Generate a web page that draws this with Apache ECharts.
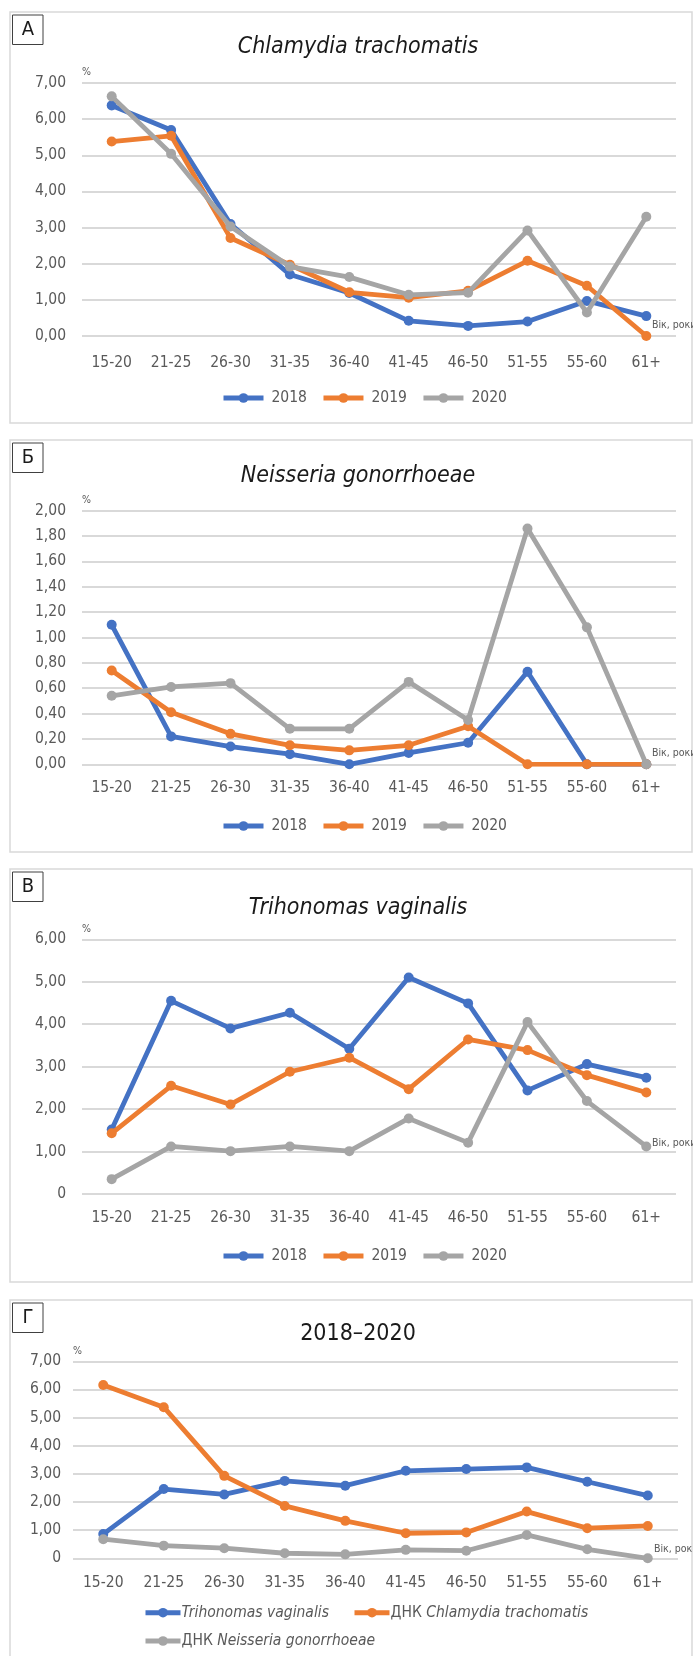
<!DOCTYPE html>
<html>
<head>
<meta charset="utf-8">
<script src="https://cdn.jsdelivr.net/npm/echarts@6/dist/echarts.min.js"></script>
<style>
html,body{margin:0;padding:0;background:#fff;}
#chart{width:693px;height:1656px;}
</style>
</head>
<body>
<div id="chart"></div>
<script>
// ---- Data ----
const categories = ['15-20','21-25','26-30','31-35','36-40','41-45','46-50','51-55','55-60','61+'];

// Panel A: Chlamydia trachomatis
const chl2018 = [6.38, 5.70, 3.10, 1.70, 1.19, 0.42, 0.28, 0.40, 0.97, 0.55];
const chl2019 = [5.38, 5.54, 2.71, 1.97, 1.21, 1.06, 1.25, 2.08, 1.39, 0.00];
const chl2020 = [6.63, 5.04, 3.03, 1.92, 1.63, 1.14, 1.20, 2.92, 0.65, 3.30];

// Panel B: Neisseria gonorrhoeae
const gon2018 = [1.10, 0.22, 0.14, 0.08, 0.00, 0.09, 0.17, 0.73, 0.00, 0.00];
const gon2019 = [0.74, 0.41, 0.24, 0.15, 0.11, 0.15, 0.30, 0.00, 0.00, 0.00];
const gon2020 = [0.54, 0.61, 0.64, 0.28, 0.28, 0.65, 0.35, 1.86, 1.08, 0.00];

// Panel C: Trihonomas vaginalis
const tri2018 = [1.52, 4.55, 3.90, 4.27, 3.42, 5.10, 4.49, 2.44, 3.06, 2.74];
const tri2019 = [1.43, 2.55, 2.11, 2.88, 3.21, 2.47, 3.64, 3.39, 2.80, 2.39];
const tri2020 = [0.35, 1.12, 1.01, 1.12, 1.01, 1.78, 1.21, 4.05, 2.19, 1.12];

// Panel D: 2018–2020
const totTri = [0.86, 2.46, 2.27, 2.75, 2.58, 3.11, 3.17, 3.23, 2.72, 2.23];
const totChl = [6.16, 5.37, 2.93, 1.86, 1.33, 0.89, 0.92, 1.66, 1.07, 1.15];
const totGon = [0.68, 0.45, 0.36, 0.18, 0.14, 0.30, 0.27, 0.83, 0.32, 0.00];

const years = ['2018', '2019', '2020'];
const totNames = ['Trihonomas vaginalis', 'ДНК Chlamydia trachomatis', 'ДНК Neisseria gonorrhoeae'];
const titles = ['Chlamydia trachomatis', 'Neisseria gonorrhoeae', 'Trihonomas vaginalis', '2018–2020'];
const panelLetters = ['А', 'Б', 'В', 'Г'];

const yTicksA = ['0,00','1,00','2,00','3,00','4,00','5,00','6,00','7,00'];
const yTicksB = ['0,00','0,20','0,40','0,60','0,80','1,00','1,20','1,40','1,60','1,80','2,00'];
const yTicksC = ['0','1,00','2,00','3,00','4,00','5,00','6,00'];
const yTicksD = ['0','1,00','2,00','3,00','4,00','5,00','6,00','7,00'];

const unitLabelY = '%';
const unitLabelX = 'Вік, роки';

// ---- Styling ----
const COLORS = ['#4472C4', '#ED7D31', '#A5A5A5'];
const NARROW = "'Liberation Sans Narrow', 'DejaVu Sans Condensed', 'Roboto Condensed', 'Arial Narrow', sans-serif";
const TXT = '#595959';
const GRIDC = '#d9d9d9';
const FS = 15.5;

const panels = [
  {ticks: yTicksA, interval: 1, series: [chl2018, chl2019, chl2020], names: years,
   grid: {left: 82, right: 17, top: 83, height: 253}, box: [10, 12, 682, 411],
   titleY: 45, legendY: 397, xnamePad: 5, labelGap: 16, xMargin: 19, italic: true},
  {ticks: yTicksB, interval: 0.2, series: [gon2018, gon2019, gon2020], names: years,
   grid: {left: 82, right: 17, top: 510.7, height: 253.6}, box: [10, 440, 682, 412],
   titleY: 474, legendY: 825, xnamePad: 6, labelGap: 16, xMargin: 16, italic: true},
  {ticks: yTicksC, interval: 1, series: [tri2018, tri2019, tri2020], names: years,
   grid: {left: 82, right: 17, top: 939.3, height: 254.7}, box: [10, 869, 682, 413],
   titleY: 906, legendY: 1255, xnamePad: 45, labelGap: 16, xMargin: 16, italic: true},
  {ticks: yTicksD, interval: 1, series: [totTri, totChl, totGon], names: totNames,
   grid: {left: 73, right: 15, top: 1361.3, height: 197}, box: [10, 1300, 682, 400],
   titleY: 1332, legendY: null, xnamePad: 4, labelGap: 12, xMargin: 17, italic: false}
];

const option = {
  animation: false,
  backgroundColor: '#fff',
  title: [], grid: [], xAxis: [], yAxis: [], series: [], legend: [], graphic: []
};

panels.forEach((p, i) => {
  const [bx, by, bw, bh] = p.box;
  option.graphic.push({type: 'rect', shape: {x: bx, y: by, width: bw, height: bh},
    style: {fill: 'none', stroke: '#d9d9d9', lineWidth: 1.5}, z: 0, silent: true});
  const ly = by + 3;
  option.graphic.push({type: 'rect', shape: {x: 12.5, y: ly, width: 30.5, height: 29.5},
    style: {fill: '#fff', stroke: '#404040', lineWidth: 1}, z: 5});
  option.graphic.push({type: 'text', x: 28, y: ly + 15, z: 6,
    style: {text: panelLetters[i], fill: '#1a1a1a', font: "20px 'DejaVu Sans Condensed', sans-serif",
      textAlign: 'center', textVerticalAlign: 'middle'}});

  option.title.push({
    text: titles[i], left: 353, textAlign: 'center', top: p.titleY - 17,
    textStyle: {fontFamily: NARROW, fontStyle: p.italic ? 'italic' : 'normal', fontWeight: 'normal',
      fontSize: 23, color: '#1a1a1a', lineHeight: 28}
  });

  option.grid.push(Object.assign({containLabel: false, outerBoundsMode: 'none'}, p.grid));

  option.xAxis.push({
    type: 'category', gridIndex: i, data: categories, boundaryGap: true,
    axisLine: {show: false}, axisTick: {show: false},
    axisLabel: {color: TXT, fontFamily: NARROW, fontSize: FS, margin: p.xMargin, interval: 0},
    name: unitLabelX, nameLocation: 'end', nameGap: -24,
    nameTextStyle: {color: TXT, fontFamily: NARROW, fontSize: 10.5, align: 'left', verticalAlign: 'bottom',
      padding: [0, 0, p.xnamePad, 0]}
  });

  const ticks = p.ticks;
  const intv = p.interval;
  option.yAxis.push({
    type: 'value', gridIndex: i, min: 0, max: intv * (ticks.length - 1), interval: intv,
    axisLine: {show: false}, axisTick: {show: false},
    splitLine: {lineStyle: {color: GRIDC, width: 1.8}},
    axisLabel: {color: TXT, fontFamily: NARROW, fontSize: FS, margin: p.labelGap,
      formatter: v => ticks[Math.round(v / intv)]},
    name: unitLabelY, nameLocation: 'end', nameGap: 5,
    nameTextStyle: {color: TXT, fontFamily: NARROW, fontSize: 10.5, align: 'left', verticalAlign: 'bottom',
      padding: [0, 0, 0, 0]}
  });

  p.series.forEach((arr, k) => {
    option.series.push({
      type: 'line', name: p.names[k], xAxisIndex: i, yAxisIndex: i, data: arr,
      symbol: 'circle', symbolSize: 10, showSymbol: true,
      lineStyle: {color: COLORS[k], width: 4.8},
      itemStyle: {color: COLORS[k]},
      z: 2 + k
    });
  });

  if (p.legendY !== null) {
    option.legend.push({
      data: p.names, left: 221, top: p.legendY - 7, padding: 0,
      itemWidth: 40, itemHeight: 12, itemGap: 14,
      lineStyle: {width: 5},
      textStyle: {color: TXT, fontFamily: NARROW, fontSize: FS, padding: [0, 0, 0, 3]}
    });
  }
});

// Panel D legends (three items, two rows)
const legendRich = {
  r: {fontFamily: NARROW, fontSize: FS, color: TXT},
  i: {fontFamily: NARROW, fontSize: FS, color: TXT, fontStyle: 'italic'}
};
const legFmt = name => name.startsWith('ДНК ') ? '{r|ДНК }{i|' + name.slice(4) + '}' : '{i|' + name + '}';
[[totNames[0], 143, 1611.7], [totNames[1], 352, 1611.7], [totNames[2], 143, 1640]].forEach(([n, x, y]) => {
  option.legend.push({
    data: [n], left: x, top: y - 7, padding: 0, itemWidth: 35, itemHeight: 12,
    lineStyle: {width: 5},
    formatter: legFmt,
    textStyle: {color: TXT, fontFamily: NARROW, fontSize: FS, padding: [0, 0, 0, -4], rich: legendRich}
  });
});

const chart = echarts.init(document.getElementById('chart'), null, {renderer: 'canvas'});
chart.setOption(option);
</script>
</body>
</html>
